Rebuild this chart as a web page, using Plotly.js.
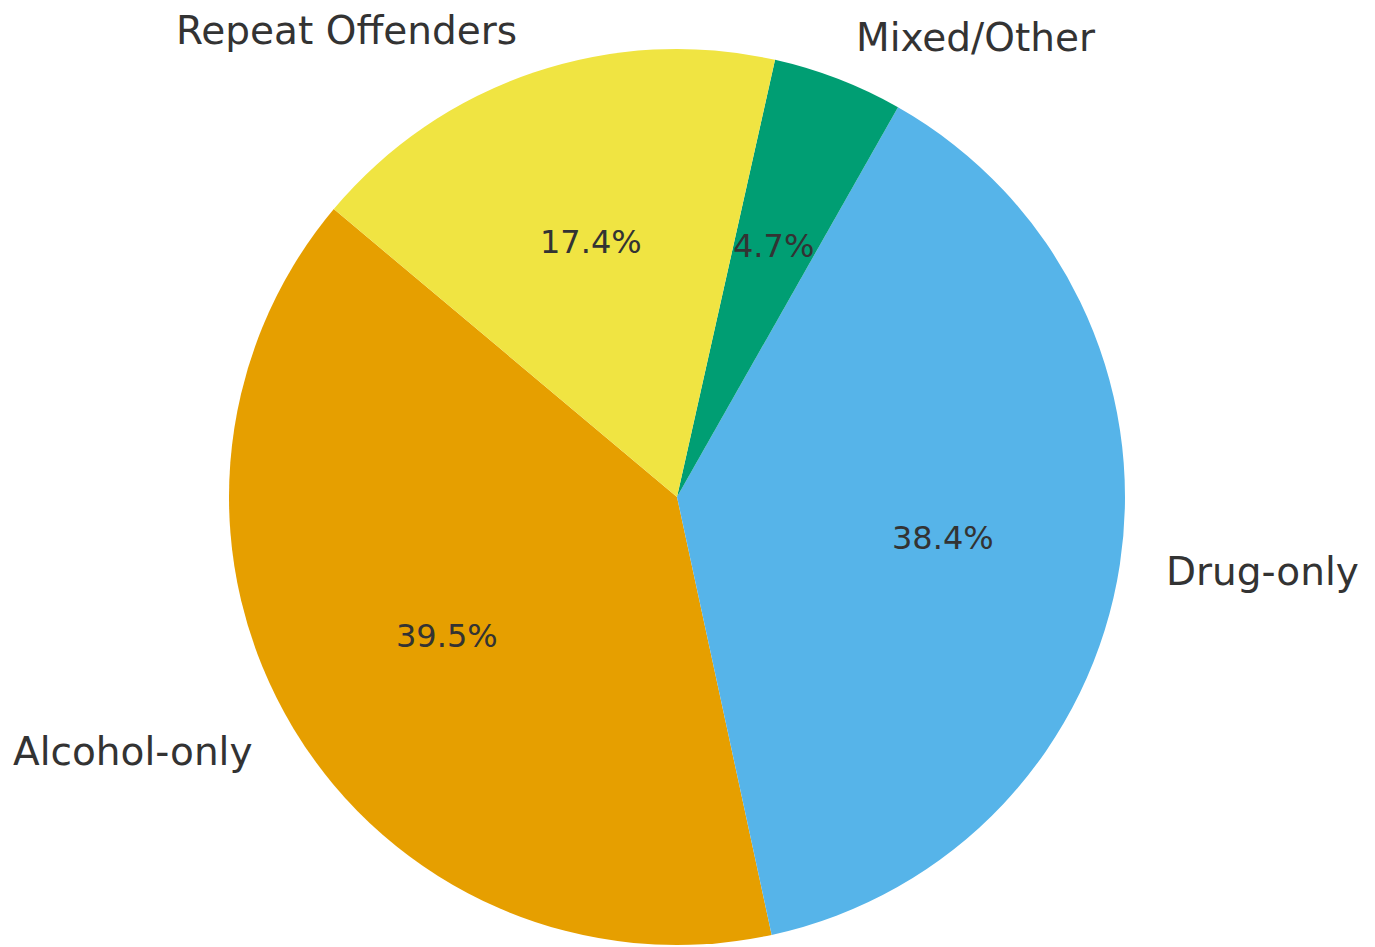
<!DOCTYPE html>
<html>
<head>
<meta charset="utf-8">
<script src="https://cdn.plot.ly/plotly-3.0.1.min.js"></script>
<style>
  html, body { margin: 0; padding: 0; background: #ffffff; }
  #chart { width: 1375px; height: 947px; }
</style>
</head>
<body>
<div id="chart"></div>
<script>
// ---- data ----
const categories = ["Alcohol-only", "Drug-only", "Mixed/Other", "Repeat Offenders"];
const shares = [39.5, 38.4, 4.7, 17.4];
const sliceColors = ["#E69F00", "#56B4E9", "#009E73", "#F0E442"];

// ---- geometry / style ----
const W = 1375, H = 947;
const CX = 677, CY = 497, R = 448;      // pie centre and radius in px (from top-left)
const START_DEG = 140;                  // first slice starts here (math angle), counter-clockwise
const LABEL_DIST = 1.1, PCT_DIST = 0.6;
const FONT = "DejaVu Sans, Arial, sans-serif";
const TEXT_COLOR = "#333333";

const domain = {
  x: [(CX - R) / W, (CX + R) / W],
  y: [(H - CY - R) / H, (H - CY + R) / H]
};

const total = shares.reduce((a, b) => a + b, 0);
const annotations = [];
let cum = 0;
shares.forEach((v, i) => {
  const mid = (START_DEG + (cum + v / 2) / total * 360) * Math.PI / 180;
  cum += v;
  const cx = CX / W, cy = (H - CY) / H;
  const lx = cx + LABEL_DIST * R * Math.cos(mid) / W;
  const ly = cy + LABEL_DIST * R * Math.sin(mid) / H;
  annotations.push({
    xref: "paper", yref: "paper", x: lx, y: ly,
    text: categories[i], showarrow: false,
    xanchor: Math.cos(mid) >= 0 ? "left" : "right", yanchor: "middle",
    font: { family: FONT, size: 39, color: TEXT_COLOR }
  });
  const px = cx + PCT_DIST * R * Math.cos(mid) / W;
  const py = cy + PCT_DIST * R * Math.sin(mid) / H;
  annotations.push({
    xref: "paper", yref: "paper", x: px, y: py,
    text: (v / total * 100).toFixed(1) + "%", showarrow: false,
    xanchor: "center", yanchor: "middle",
    font: { family: FONT, size: 32, color: TEXT_COLOR }
  });
});

// Plotly (counterclockwise) puts the end of the first slice at `rotation`
// (clockwise degrees from 12 o'clock)
const firstEndMath = START_DEG + shares[0] / total * 360;
let rot = 90 - firstEndMath;
while (rot < -360) rot += 360;

const trace = {
  type: "pie",
  labels: categories,
  values: shares,
  marker: { colors: sliceColors, line: { width: 0 } },
  sort: false,
  direction: "counterclockwise",
  rotation: rot,
  textinfo: "none",
  hoverinfo: "label+percent",
  domain: domain,
  showlegend: false
};

const layout = {
  width: W, height: H,
  margin: { l: 0, r: 0, t: 0, b: 0 },
  paper_bgcolor: "#ffffff",
  plot_bgcolor: "#ffffff",
  showlegend: false,
  annotations: annotations
};

Plotly.newPlot("chart", [trace], layout, { displayModeBar: false, staticPlot: true });
</script>
</body>
</html>
